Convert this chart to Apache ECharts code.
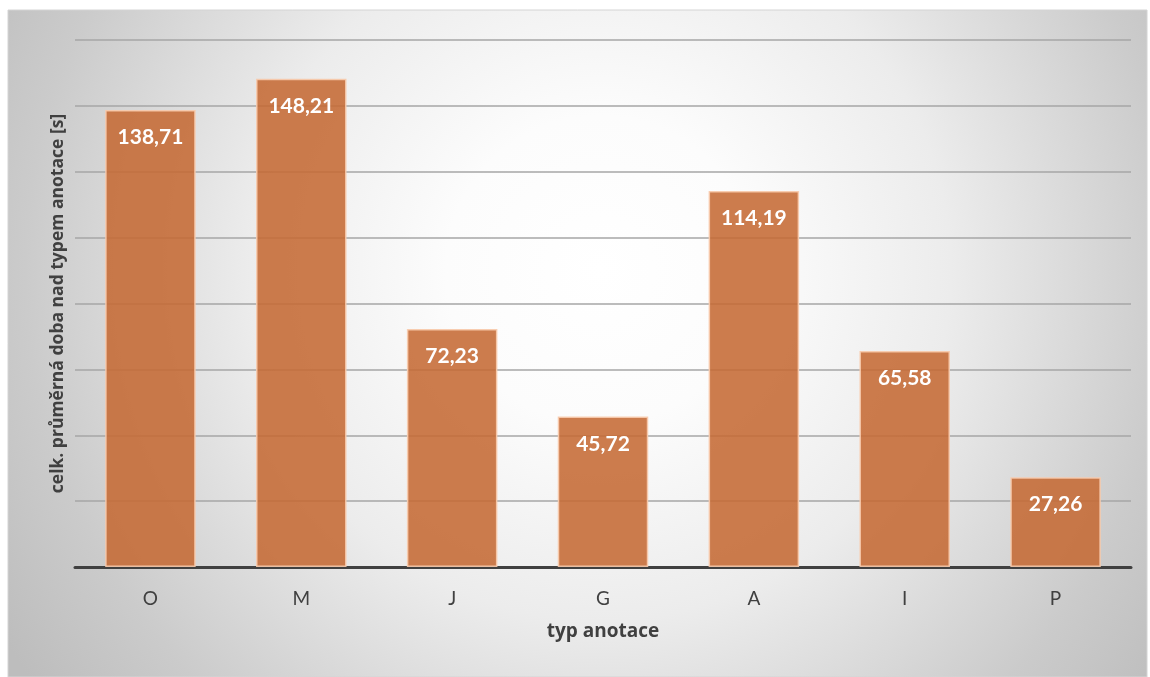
<!DOCTYPE html>
<html>
<head>
<meta charset="utf-8">
<script src="https://cdn.jsdelivr.net/npm/echarts@6/dist/echarts.min.js"></script>
<style>
html,body{margin:0;padding:0;background:#ffffff;}
#chart{width:1150px;height:677px;}
</style>
</head>
<body>
<div id="chart"></div>
<script>
const categories = ['O', 'M', 'J', 'G', 'A', 'I', 'P'];
const values = [138.71, 148.21, 72.23, 45.72, 114.19, 65.58, 27.26];
const xAxisName = 'typ anotace';
const yAxisName = 'celk. průměrná doba nad typem anotace [s]';

const chart = echarts.init(document.getElementById('chart'), null, {renderer: 'canvas'});
const font = 'Lato, "Open Sans", "DejaVu Sans", sans-serif';
const nameFont = '"Open Sans", Lato, "DejaVu Sans", sans-serif';

chart.setOption({
  animation: false,
  backgroundColor: 'transparent',
  graphic: [{
    type: 'rect',
    z: -100,
    silent: true,
    shape: {x: 8, y: 10, width: 1139, height: 667},
    style: {
      fill: {
        type: 'radial', x: 0.52, y: 0.39, r: 1.05,
        colorStops: [
          {offset: 0, color: '#ffffff'},
          {offset: 0.22, color: '#fcfcfc'},
          {offset: 0.5, color: '#ececec'},
          {offset: 0.82, color: '#cbcbcb'},
          {offset: 1, color: '#bdbdbd'}
        ]
      },
      stroke: '#d4d4d4',
      lineWidth: 1
    }
  }],
  grid: {left: 75, right: 19, top: 40, bottom: 110, containLabel: false},
  xAxis: {
    type: 'category',
    data: categories,
    name: xAxisName,
    nameLocation: 'middle',
    nameGap: 55,
    nameTextStyle: {fontFamily: nameFont, fontSize: 19, fontWeight: 'bold', color: '#404040'},
    axisLine: {lineStyle: {color: '#404040', width: 3}},
    axisTick: {show: false},
    axisLabel: {fontFamily: font, fontSize: 19, color: '#404040', margin: 22}
  },
  yAxis: {
    type: 'value',
    min: 0, max: 160, interval: 20,
    name: yAxisName,
    nameLocation: 'middle',
    nameGap: 8,
    nameTextStyle: {fontFamily: nameFont, fontSize: 17.5, fontWeight: 'bold', color: '#404040'},
    axisLine: {show: false},
    axisTick: {show: false},
    axisLabel: {show: false},
    splitLine: {lineStyle: {color: '#a6a6a6', width: 1.5}}
  },
  series: [{
    type: 'bar',
    data: values,
    barWidth: '60%',
    itemStyle: {
      color: 'rgba(197, 106, 52, 0.88)',
      borderColor: 'rgba(248, 203, 173, 0.9)',
      borderWidth: 1.5
    },
    label: {
      show: true,
      position: 'insideTop',
      distance: 17,
      color: '#ffffff',
      fontFamily: font,
      fontSize: 21,
      fontWeight: 'bold',
      formatter: p => p.value.toFixed(2).replace('.', ',')
    }
  }]
});
</script>
</body>
</html>
